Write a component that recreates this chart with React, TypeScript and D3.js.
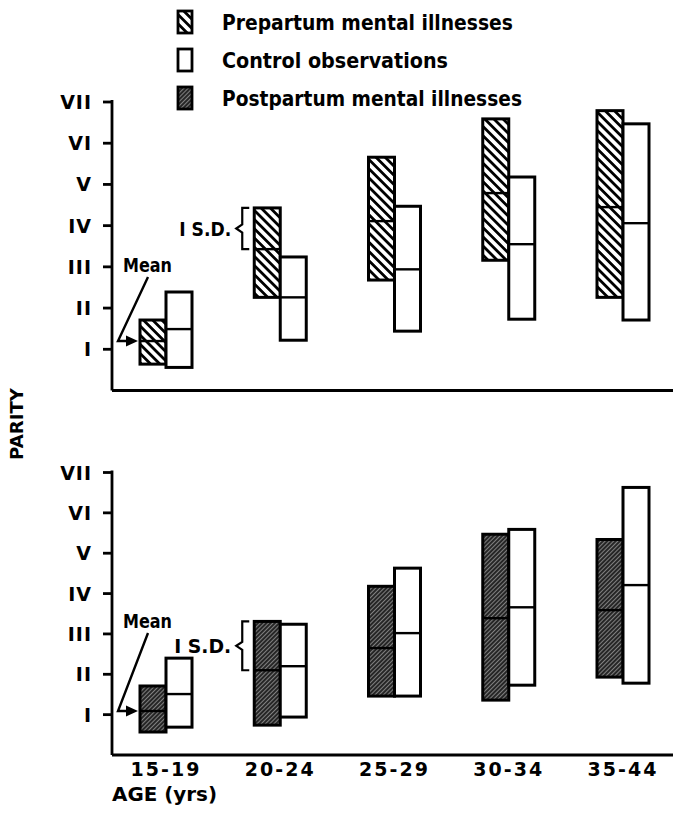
import * as d3 from 'd3';

const ageGroups = ['15-19', '20-24', '25-29', '30-34', '35-44'];
const parityLabels = ['I', 'II', 'III', 'IV', 'V', 'VI', 'VII'];

// top panel: prepartum vs controls (mean and +/- 1 S.D. limits)
const prepLow = [0.64, 2.26, 2.68, 3.16, 2.26];
const prepMean = [1.2, 3.43, 4.11, 4.79, 4.45];
const prepHigh = [1.71, 4.43, 5.66, 6.59, 6.79];
const ctrlTopLow = [0.56, 1.22, 1.44, 1.73, 1.71];
const ctrlTopMean = [1.49, 2.26, 2.94, 3.55, 4.06];
const ctrlTopHigh = [2.39, 3.24, 4.47, 5.18, 6.47];

// bottom panel: postpartum vs controls
const postLow = [0.57, 0.74, 1.46, 1.36, 1.93];
const postMean = [1.09, 2.1, 2.65, 3.39, 3.59];
const postHigh = [1.71, 3.31, 4.18, 5.47, 5.34];
const ctrlBotLow = [0.69, 0.94, 1.46, 1.73, 1.78];
const ctrlBotMean = [1.51, 2.2, 3.02, 3.66, 4.21];
const ctrlBotHigh = [2.4, 3.24, 4.63, 5.59, 6.63];

const legendItems = [
  { label: 'Prepartum mental illnesses', fill: 'url(#prepHatch)', len: 291 },
  { label: 'Control observations', fill: '#fff', len: 226 },
  { label: 'Postpartum mental illnesses', fill: 'url(#postHatch)', len: 300 },
];

const W = 676;
const H = 813;
const FONT = '"DejaVu Sans", sans-serif';
const barW = 26;

const x = d3.scalePoint<string>().domain(ageGroups).range([166, 623]);

type Panel = {
  y: d3.ScaleLinear<number, number>;
  low: number[];
  mean: number[];
  high: number[];
  cLow: number[];
  cMean: number[];
  cHigh: number[];
  fill: string;
};

function Brace({ x0, y0, y1 }: { x0: number; y0: number; y1: number }) {
  const m = (y0 + y1) / 2;
  const d = d3.path();
  d.moveTo(x0 + 13, y0);
  d.lineTo(x0 + 6, y0);
  d.lineTo(x0 + 6, m - 4);
  d.lineTo(x0, m);
  d.lineTo(x0 + 6, m + 4);
  d.lineTo(x0 + 6, y1);
  d.lineTo(x0 + 13, y1);
  return <path d={d.toString()} fill="none" stroke="#000" strokeWidth={2.2} />;
}

function PanelView({ p, meanLabelY, sdLen }: { p: Panel; meanLabelY: number; sdLen: number }) {
  const { y } = p;
  const x0 = 112;
  const x1 = 673;
  const arrowY = y(p.mean[0]);
  const arrowX = (x(ageGroups[0]) as number) - barW - 2;
  const braceX = (x(ageGroups[1]) as number) - barW - 18;
  return (
    <g>
      {/* axes */}
      <line x1={x0} x2={x0} y1={y(7) - 2} y2={y(0)} stroke="#000" strokeWidth={2.8} />
      <line x1={x0} x2={x1} y1={y(0)} y2={y(0)} stroke="#000" strokeWidth={2.8} />
      {parityLabels.map((t, i) => (
        <g key={t}>
          <line x1={x0 - 9} x2={x0} y1={y(i + 1)} y2={y(i + 1)} stroke="#000" strokeWidth={2.8} />
          <text
            x={x0 - 20}
            y={y(i + 1) + 7}
            textAnchor="end"
            fontFamily={FONT}
            fontWeight="bold"
            fontSize={19}
            letterSpacing={1}
          >
            {t}
          </text>
        </g>
      ))}
      {/* bars */}
      {ageGroups.map((g, i) => {
        const cx = x(g) as number;
        return (
          <g key={g}>
            <rect
              x={cx - barW}
              y={y(p.high[i])}
              width={barW}
              height={y(p.low[i]) - y(p.high[i])}
              fill={p.fill}
              stroke="#000"
              strokeWidth={3}
            />
            <line x1={cx - barW} x2={cx} y1={y(p.mean[i])} y2={y(p.mean[i])} stroke="#000" strokeWidth={2.4} />
            <rect
              x={cx}
              y={y(p.cHigh[i])}
              width={barW}
              height={y(p.cLow[i]) - y(p.cHigh[i])}
              fill="#fff"
              stroke="#000"
              strokeWidth={3}
            />
            <line x1={cx} x2={cx + barW} y1={y(p.cMean[i])} y2={y(p.cMean[i])} stroke="#000" strokeWidth={2.4} />
          </g>
        );
      })}
      {/* Mean annotation */}
      <text
        x={123}
        y={meanLabelY + 7}
        fontFamily={FONT}
        fontWeight="bold"
        fontSize={19}
        textLength={49}
        lengthAdjust="spacingAndGlyphs"
      >
        Mean
      </text>
      <path
        d={`M${148},${meanLabelY + 12} L${118},${arrowY} L${arrowX - 8},${arrowY}`}
        fill="none"
        stroke="#000"
        strokeWidth={2.4}
      />
      <path d={`M${arrowX},${arrowY} L${arrowX - 12},${arrowY - 5.5} L${arrowX - 12},${arrowY + 5.5} Z`} fill="#000" />
      {/* S.D. annotation */}
      <Brace x0={braceX} y0={y(p.high[1])} y1={y(p.mean[1])} />
      <text
        x={braceX - 5}
        y={(y(p.high[1]) + y(p.mean[1])) / 2 + 7}
        textAnchor="end"
        fontFamily={FONT}
        fontWeight="bold"
        fontSize={19}
        textLength={sdLen}
        lengthAdjust="spacingAndGlyphs"
      >
        I S.D.
      </text>
    </g>
  );
}

export default function App() {
  const yTop = d3.scaleLinear().domain([0, 7]).range([390.5, 102]);
  const yBot = d3.scaleLinear().domain([0, 7]).range([755, 472.5]);

  const top: Panel = {
    y: yTop,
    low: prepLow,
    mean: prepMean,
    high: prepHigh,
    cLow: ctrlTopLow,
    cMean: ctrlTopMean,
    cHigh: ctrlTopHigh,
    fill: 'url(#prepHatch)',
  };
  const bottom: Panel = {
    y: yBot,
    low: postLow,
    mean: postMean,
    high: postHigh,
    cLow: ctrlBotLow,
    cMean: ctrlBotMean,
    cHigh: ctrlBotHigh,
    fill: 'url(#postHatch)',
  };

  const legendY = d3.scalePoint<string>().domain(legendItems.map((d) => d.label)).range([22, 98]);

  return (
    <div style={{ position: 'absolute', left: 0, top: 0 }}>
      <svg width={W} height={H} viewBox={`0 0 ${W} ${H}`} style={{ display: 'block', background: '#fff' }}>
        <defs>
          <pattern id="prepHatch" patternUnits="userSpaceOnUse" width={6.5} height={6.5} patternTransform="rotate(45)">
            <rect width={6.5} height={6.5} fill="#fff" />
            <rect width={6.5} height={2.8} fill="#000" />
          </pattern>
          <pattern id="postHatch" patternUnits="userSpaceOnUse" width={3} height={3} patternTransform="rotate(-45)">
            <rect width={3} height={3} fill="#262626" />
            <rect width={3} height={0.9} fill="#8a8a8a" />
          </pattern>
        </defs>

        {/* legend */}
        {legendItems.map((d) => {
          const cy = legendY(d.label) as number;
          return (
            <g key={d.label}>
              <rect x={178} y={cy - 11} width={14} height={22} fill={d.fill} stroke="#000" strokeWidth={2.8} />
              <text
                x={222}
                y={cy + 8}
                fontFamily={FONT}
                fontWeight="bold"
                fontSize={22}
                textLength={d.len}
                lengthAdjust="spacingAndGlyphs"
              >
                {d.label}
              </text>
            </g>
          );
        })}

        <PanelView p={top} meanLabelY={265} sdLen={52} />
        <PanelView p={bottom} meanLabelY={621} sdLen={57} />

        {/* y title */}
        <text
          transform="translate(23,424) rotate(-90)"
          textAnchor="middle"
          fontFamily={FONT}
          fontWeight="bold"
          fontSize={18}
          textLength={72}
          lengthAdjust="spacingAndGlyphs"
        >
          PARITY
        </text>

        {/* x tick labels */}
        {ageGroups.map((g) => (
          <text
            key={g}
            x={x(g) as number}
            y={776}
            textAnchor="middle"
            fontFamily={FONT}
            fontWeight="bold"
            fontSize={19}
            letterSpacing={2}
          >
            {g}
          </text>
        ))}
        <text
          x={112}
          y={801}
          fontFamily={FONT}
          fontWeight="bold"
          fontSize={19}
          textLength={105}
          lengthAdjust="spacingAndGlyphs"
        >
          AGE (yrs)
        </text>
      </svg>
    </div>
  );
}
